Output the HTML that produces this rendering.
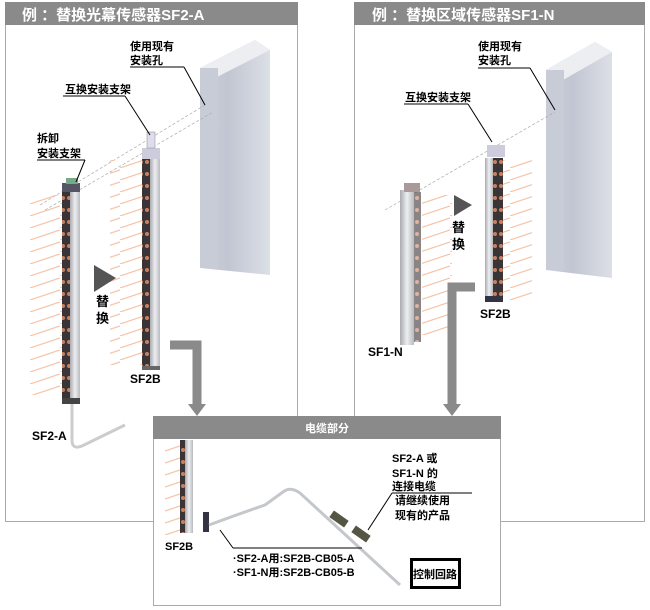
<!DOCTYPE html><html><head><meta charset="utf-8"><style>body{margin:0;background:#fff}svg{display:block}text{font-family:"Liberation Sans","Noto Sans CJK SC",sans-serif;font-weight:bold}</style></head><body>
<svg width="650" height="610" viewBox="0 0 650 610" xmlns="http://www.w3.org/2000/svg">
<defs>
<linearGradient id="wall" x1="0" x2="1"><stop offset="0" stop-color="#cdd0da"/><stop offset="0.4" stop-color="#c2c6d2"/><stop offset="1" stop-color="#dcdfe6"/></linearGradient>
<linearGradient id="bar" x1="0" x2="1"><stop offset="0" stop-color="#a9abb0"/><stop offset="0.5" stop-color="#eceef0"/><stop offset="1" stop-color="#b8babe"/></linearGradient>
<pattern id="rays" width="30" height="12" patternUnits="userSpaceOnUse"><line x1="0" y1="12" x2="30" y2="2" stroke="#f4c4a8" stroke-width="1.2"/></pattern>
<pattern id="dots" width="6" height="12" patternUnits="userSpaceOnUse"><rect width="6" height="12" fill="#3a3436"/><circle cx="3" cy="6" r="2" fill="#c88060"/></pattern>
</defs>
<rect x="5.5" y="2.5" width="292" height="519" fill="#fff" stroke="#aaa"/>
<rect x="5" y="2" width="293" height="23" fill="#8a8a8a"/>
<text x="22" y="20" fill="#fff" font-size="15">例 ：替换光幕传感器SF2-A</text>
<rect x="354.5" y="2.5" width="290" height="519" fill="#fff" stroke="#aaa"/>
<rect x="354" y="2" width="291" height="23" fill="#8a8a8a"/>
<text x="372" y="20" fill="#fff" font-size="15">例 ：替换区域传感器SF1-N</text>

<polygon points="200,68 255,40 270,50 270,275 200,268" fill="url(#wall)"/>
<polygon points="200,68 255,40 270,50 215,78" fill="#eceef2"/>
<rect x="200" y="68" width="18" height="200" fill="#c8ccd6"/>
<polygon points="546,70 595,42 612,52 612,278 546,270" fill="url(#wall)"/>
<polygon points="546,70 595,42 612,52 563,80" fill="#eceef2"/>
<rect x="546" y="70" width="18" height="200" fill="#c8ccd6"/>

<g stroke="#aaa" stroke-width="0.7" stroke-dasharray="3,2">
<line x1="40" y1="205" x2="205" y2="105"/><line x1="45" y1="210" x2="213" y2="112"/>
<line x1="385" y1="210" x2="555" y2="112"/>
</g>

<rect x="30" y="195" width="34" height="200" fill="url(#rays)"/>
<rect x="62" y="190" width="8" height="210" fill="url(#dots)"/>
<rect x="70" y="190" width="10" height="210" fill="url(#bar)"/>
<rect x="62" y="183" width="18" height="9" fill="#556"/>
<rect x="66" y="178" width="12" height="6" fill="#7a8"/>
<rect x="62" y="398" width="18" height="6" fill="#444"/>
<path d="M72,404 L72,440 Q72,450 82,446 L125,425" fill="none" stroke="#ccc" stroke-width="3"/>
<rect x="110" y="160" width="34" height="205" fill="url(#rays)"/>
<rect x="142" y="158" width="8" height="210" fill="url(#dots)"/>
<rect x="150" y="158" width="10" height="210" fill="url(#bar)"/>
<rect x="142" y="148" width="18" height="11" fill="#ccd"/>
<rect x="147" y="132" width="8" height="16" fill="#dde" stroke="#888" stroke-width="0.5"/>
<rect x="142" y="366" width="18" height="4" fill="#666"/>
<polygon points="94,265 116,278 94,292" fill="#555"/>
<text x="96" y="306" font-size="13">替</text><text x="96" y="323" font-size="13">换</text>

<text x="130" y="50" font-size="11">使用现有</text><text x="130" y="64" font-size="11">安装孔</text>
<line x1="130" y1="67" x2="184" y2="67" stroke="#000"/><line x1="184" y1="67" x2="205" y2="105" stroke="#000"/>
<text x="65" y="93" font-size="11">互换安装支架</text>
<line x1="63" y1="96" x2="125" y2="96" stroke="#000"/><line x1="125" y1="96" x2="150" y2="135" stroke="#000"/>
<text x="37" y="142" font-size="11">拆卸</text><text x="37" y="157" font-size="11">安装支架</text>
<line x1="37" y1="160" x2="85" y2="160" stroke="#000"/><line x1="85" y1="160" x2="76" y2="182" stroke="#000"/>
<text x="32" y="440" font-size="12">SF2-A</text>
<text x="130" y="383" font-size="12">SF2B</text>

<rect x="422" y="195" width="30" height="140" fill="url(#rays)"/>
<rect x="400" y="190" width="14" height="155" fill="url(#bar)"/>
<rect x="414" y="192" width="7" height="150" fill="url(#dots)" opacity="0.6"/>
<rect x="404" y="183" width="16" height="9" fill="#a99"/>
<rect x="500" y="160" width="32" height="140" fill="url(#rays)"/>
<rect x="485" y="158" width="8" height="140" fill="url(#bar)"/>
<rect x="493" y="158" width="10" height="140" fill="url(#dots)"/>
<rect x="485" y="296" width="18" height="6" fill="#334"/>
<rect x="487" y="145" width="18" height="12" fill="#ccd"/>
<polygon points="454,195 472,205 454,216" fill="#555"/>
<text x="452" y="232" font-size="13">替</text><text x="452" y="249" font-size="13">换</text>
<text x="478" y="50" font-size="11">使用现有</text><text x="478" y="64" font-size="11">安装孔</text>
<line x1="478" y1="68" x2="530" y2="68" stroke="#000"/><line x1="530" y1="68" x2="555" y2="110" stroke="#000"/>
<text x="405" y="101" font-size="11">互换安装支架</text>
<line x1="404" y1="104" x2="468" y2="104" stroke="#000"/><line x1="468" y1="104" x2="492" y2="142" stroke="#000"/>
<text x="480" y="318" font-size="12">SF2B</text>
<text x="368" y="356" font-size="12">SF1-N</text>

<path d="M170,345 L197,345 L197,405" fill="none" stroke="#8a8a8a" stroke-width="9"/>
<polygon points="188,404 206,404 197,416" fill="#8a8a8a"/>
<path d="M475,287 L452,287 L452,405" fill="none" stroke="#8a8a8a" stroke-width="9"/>
<polygon points="443,404 461,404 452,416" fill="#8a8a8a"/>

<rect x="153.5" y="416.5" width="347" height="189" fill="#fff" stroke="#aaa"/>
<rect x="153" y="416" width="348" height="23" fill="#8a8a8a"/>
<text x="327" y="432" fill="#fff" font-size="11" text-anchor="middle">电缆部分</text>
<rect x="165" y="440" width="20" height="95" fill="url(#rays)"/>
<rect x="180" y="440" width="5" height="93" fill="url(#dots)"/>
<rect x="185" y="440" width="8" height="93" fill="url(#bar)"/>
<rect x="203" y="512" width="6" height="20" fill="#334"/>
<path d="M209,525 Q250,510 265,505 L283,492 Q290,486 300,493 L400,585" fill="none" stroke="#c4c7cc" stroke-width="3"/>
<rect x="330" y="515" width="18" height="8" fill="#554" transform="rotate(35 339 519)"/>
<rect x="352" y="530" width="18" height="8" fill="#554" transform="rotate(35 361 534)"/>
<text x="165" y="550" font-size="11">SF2B</text>
<line x1="220" y1="530" x2="233" y2="548" stroke="#000"/><line x1="233" y1="548" x2="362" y2="548" stroke="#000"/>
<text x="233" y="562" font-size="11">·SF2-A用:SF2B-CB05-A</text>
<text x="233" y="576" font-size="11">·SF1-N用:SF2B-CB05-B</text>
<text x="392" y="462" font-size="11">SF2-A 或</text>
<text x="392" y="477" font-size="11">SF1-N 的</text>
<text x="392" y="490" font-size="11">连接电缆</text>
<line x1="392" y1="493" x2="472" y2="493" stroke="#000"/>
<line x1="392" y1="493" x2="368" y2="530" stroke="#000"/>
<text x="395" y="504" font-size="11">请继续使用</text>
<text x="395" y="519" font-size="11">现有的产品</text>
<rect x="411.5" y="559.5" width="48" height="28" fill="#fff" stroke="#000" stroke-width="3"/>
<text x="435" y="578" font-size="11" text-anchor="middle">控制回路</text>
</svg>
</body></html>
